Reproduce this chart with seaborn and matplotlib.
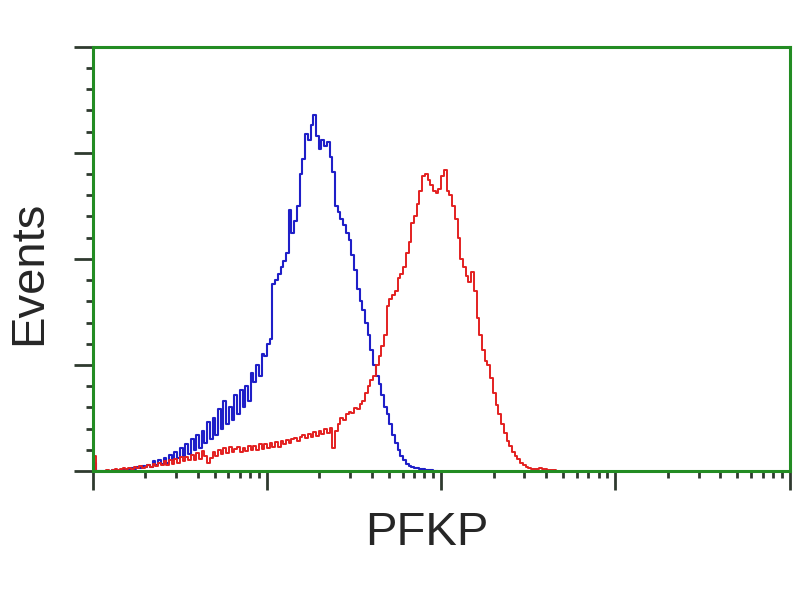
import numpy as np
import pandas as pd
import matplotlib
matplotlib.use("Agg")
import matplotlib.pyplot as plt
import seaborn as sns
from matplotlib.ticker import LogLocator, MultipleLocator, NullFormatter

# ─────────────────────────────────────────────
# Data: flow cytometry histograms (64 channels per decade, 1 .. 10^4)
# ─────────────────────────────────────────────
BINS_PER_DECADE = 64
N_DECADES = 4

# control (blue), counts per channel starting at channel 0
blue_counts = [
    4, 0, 0, 0, 0, 0, 0, 0.5, 0.5, 0,
    0.5, 1, 0.5, 1, 1.5, 1, 2, 1.5, 2.5, 2,
    3, 2, 4.5, 3, 5, 3.5, 6, 4, 7.5, 5,
    9, 6, 11, 7, 12.5, 8, 15, 10, 17, 11,
    19, 13, 23, 15, 25, 17, 29, 20, 33, 22,
    30, 24, 36, 27, 38, 30, 40, 33, 46, 42,
    50, 45, 55, 54, 60, 62, 88, 90, 93, 96,
    99, 103, 123, 112, 118, 125, 140, 147, 159, 156,
    163, 168, 158, 152, 156, 153, 155, 148, 141, 125,
    122, 119, 116, 112, 109, 102, 95, 86, 80, 76,
    70, 64, 57, 50, 45, 41, 36, 30, 27, 22,
    17, 13, 10, 7, 5, 3.5, 2.5, 2, 1.5, 1.2,
    1, 0.8, 0.5, 0.5, 0.3, 0, 0,
]

# PFKP stained (red), counts per channel starting at channel 0
red_counts = [
    7, 0, 0, 0, 0, 0.5, 0, 0.5, 1, 0.5,
    1, 1.5, 1, 1.5, 1, 2, 1.5, 2.5, 1.5, 2,
    3, 2, 3.5, 2.5, 4, 3, 4.5, 3, 5, 3.5,
    5.5, 4, 6.5, 4.5, 6.5, 5, 7.5, 5, 8.5, 5.5,
    9.5, 7, 4, 6, 9, 7, 10, 8, 11, 8.5,
    11.5, 9, 10.5, 11.5, 9, 11, 9.5, 12, 10, 12,
    10, 12.5, 10.5, 12.5, 11, 13, 11.5, 13.5, 11.5, 14,
    12.5, 14.5, 13, 15, 15.5, 14, 16, 17, 15.5, 17.5,
    16, 18.5, 16.5, 19, 17.5, 20, 18, 20.5, 11, 19,
    22, 25, 24, 27, 28, 27.5, 29.5, 29, 31.5, 33,
    37, 40, 43, 45, 50, 54, 59, 64, 78, 81,
    83, 85, 91, 93, 96, 103, 108, 117, 120, 126,
    132, 139, 140, 137, 135, 132, 131, 133, 139, 142,
    132, 130, 125, 119, 110, 100, 96, 92, 89, 94,
    85, 72, 64, 57, 52, 50, 44, 37, 31, 27,
    22, 18, 14, 12, 9, 7, 5.5, 4, 3, 2,
    1.5, 1, 0.8, 1, 1.2, 1, 0.8, 0.5, 0.5, 0.3,
    0, 0,
]

x_label = "PFKP"
y_label = "Events"


def step_frame(counts):
    n = len(counts)
    edges = 10 ** (np.arange(n + 1) / BINS_PER_DECADE)
    return pd.DataFrame({"x": edges, "y": list(counts) + [counts[-1]]})


blue_df = step_frame(blue_counts)
red_df = step_frame(red_counts)

# ─────────────────────────────────────────────
# Plot
# ─────────────────────────────────────────────
sns.set_style("white")
plt.rcParams["font.family"] = ["Liberation Sans", "DejaVu Sans"]

fig = plt.figure(figsize=(8, 6), dpi=100)
ax = fig.add_axes([0.116, 0.215, 0.871, 0.707])

sns.lineplot(data=blue_df, x="x", y="y", ax=ax, color="#1f1fc8", lw=1.5,
             drawstyle="steps-post", estimator=None, sort=False)
sns.lineplot(data=red_df, x="x", y="y", ax=ax, color="#e32020", lw=1.4,
             drawstyle="steps-post", estimator=None, sort=False)

ax.set_xscale("log")
ax.set_xlim(1, 10 ** N_DECADES)
ax.set_ylim(0, 200)

green = "#238c23"
for side in ["left", "right", "top", "bottom"]:
    ax.spines[side].set_visible(True)
    ax.spines[side].set_color(green)
    ax.spines[side].set_linewidth(2.2)

ax.xaxis.set_major_locator(LogLocator(base=10, numticks=10))
ax.xaxis.set_minor_locator(LogLocator(base=10, subs=np.arange(2, 10), numticks=20))
ax.xaxis.set_major_formatter(NullFormatter())
ax.xaxis.set_minor_formatter(NullFormatter())
ax.yaxis.set_major_locator(MultipleLocator(50))
ax.yaxis.set_minor_locator(MultipleLocator(10))
ax.yaxis.set_major_formatter(NullFormatter())

ax.tick_params(axis="both", which="major", direction="out", length=14,
               width=2, color="#2f3a2f", bottom=True, left=True)
ax.tick_params(axis="both", which="minor", direction="out", length=5,
               width=2, color="#2f3a2f", bottom=True, left=True)
ax.set_xlabel("")
ax.set_ylabel("")

fig.text(0.534, 0.112, x_label, fontsize=34, ha="center", va="center")
fig.text(0.037, 0.545, y_label, fontsize=34, ha="center", va="center",
         rotation=90)

plt.savefig("out.png", dpi=100)
plt.close()
